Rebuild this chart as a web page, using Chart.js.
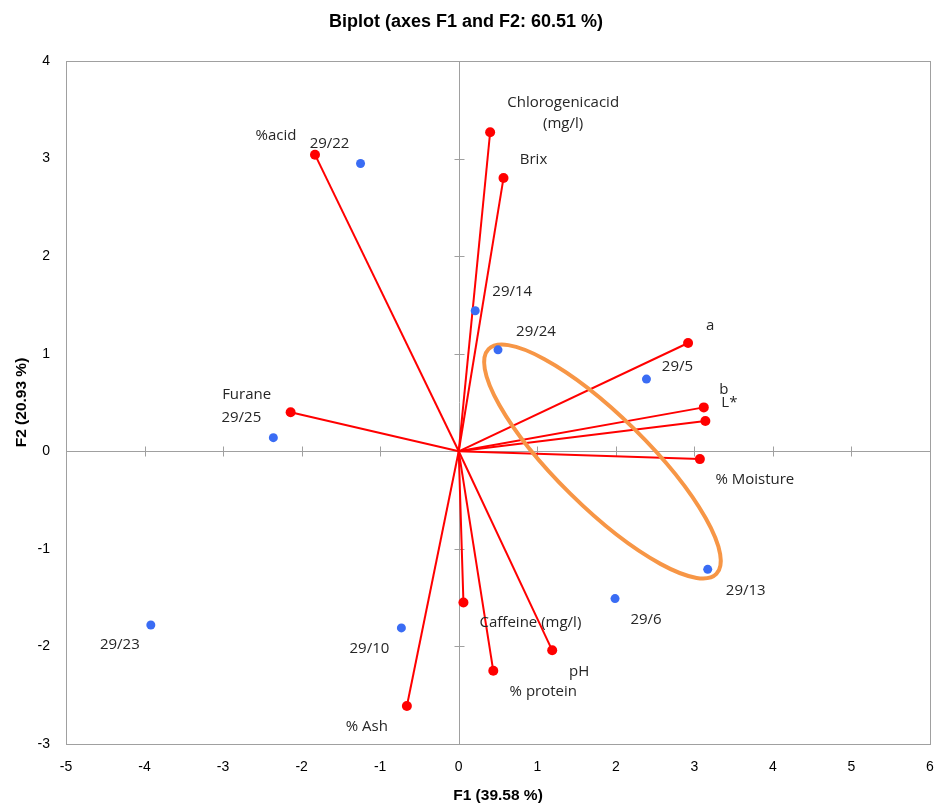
<!DOCTYPE html>
<html>
<head>
<meta charset="utf-8">
<script src="https://cdn.jsdelivr.net/npm/chart.js@4/dist/chart.umd.min.js"></script>
<style>
  html, body { margin: 0; padding: 0; background: #ffffff; }
  #wrap { width: 935px; height: 804px; position: relative; }
</style>
</head>
<body>
<div id="wrap"><canvas id="c" width="935" height="804"></canvas></div>
<script>
// ---- Data ----
const chartTitle = 'Biplot (axes F1 and F2: 60.51 %)';
const xAxisTitle = 'F1 (39.58 %)';
const yAxisTitle = 'F2 (20.93 %)';
const xTickValues = [-5, -4, -3, -2, -1, 0, 1, 2, 3, 4, 5, 6];
const yTickValues = [-3, -2, -1, 0, 1, 2, 3, 4];

// Variables (red vectors)
const varNames = ['%acid', ['Chlorogenicacid', '(mg/l)'], 'Brix', 'a', 'b', 'L*', '% Moisture', 'Furane', 'Caffeine (mg/l)', 'pH', '% protein', '% Ash'];
const varF1 = [-1.83, 0.40, 0.57, 2.92, 3.12, 3.14, 3.07, -2.14, 0.06, 1.19, 0.44, -0.66];
const varF2 = [3.04, 3.27, 2.80, 1.11, 0.45, 0.31, -0.08, 0.40, -1.55, -2.04, -2.25, -2.61];

// Observations (blue points)
const obsNames = ['29/22', '29/14', '29/24', '29/5', '29/25', '29/13', '29/6', '29/10', '29/23'];
const obsF1 = [-1.25, 0.21, 0.50, 2.39, -2.36, 3.17, 1.99, -0.73, -3.92];
const obsF2 = [2.95, 1.44, 1.04, 0.74, 0.14, -1.21, -1.51, -1.81, -1.78];

// ---- Label placement (pixel offsets from each marker) ----
const varLabelDX = [-39, 73, 30, 22, 20, 24, 55, -44, 67, 27, 50, -40];
const varLabelDY = [-19, -29, -18, -17, -18, -18, 21, -18, 20, 21, 21, 21];
const obsLabelDX = [-31, 37, 38, 31, -32, 38, 31, -32, -31];
const obsLabelDY = [-20, -19, -18, -12, -20, 21, 21, 21, 20];

const RED = '#ff0000';
const BLUE = '#3a6cf4';
const ORANGE = '#f79646';
const GRAY = '#a0a0a0';
const TEXT = '#262626';
const NARROW = "'Liberation Sans Narrow', 'Arial Narrow', 'Liberation Sans', sans-serif";
const LABEL_FONT = "15px 'Open Sans', 'Noto Sans', sans-serif";

const datasets = [];
varF1.forEach((fx, i) => {
  datasets.push({
    type: 'scatter',
    label: Array.isArray(varNames[i]) ? varNames[i].join(' ') : varNames[i],
    data: [{ x: 0, y: 0 }, { x: fx, y: varF2[i] }],
    showLine: true,
    borderColor: RED,
    backgroundColor: RED,
    borderWidth: 2,
    pointRadius: [0, 5],
    pointHoverRadius: [0, 5],
    pointBorderWidth: 0,
    order: 2
  });
});
const OBS_INDEX = datasets.length;
datasets.push({
  type: 'scatter',
  label: 'Observations',
  data: obsF1.map((fx, i) => ({ x: fx, y: obsF2[i] })),
  backgroundColor: BLUE,
  borderColor: BLUE,
  pointRadius: 4.5,
  pointBorderWidth: 0,
  order: 1
});

const frameAndAxes = {
  id: 'frameAndAxes',
  beforeDatasetsDraw(chart) {
    const { ctx, chartArea: a, scales: { x, y } } = chart;
    ctx.save();
    ctx.strokeStyle = GRAY;
    ctx.lineWidth = 1;
    ctx.strokeRect(Math.round(a.left) + 0.5, Math.round(a.top) + 0.5, Math.round(a.right - a.left), Math.round(a.bottom - a.top));
    const x0 = Math.round(x.getPixelForValue(0)) + 0.5;
    const y0 = Math.round(y.getPixelForValue(0)) + 0.5;
    ctx.beginPath();
    ctx.moveTo(a.left, y0); ctx.lineTo(a.right, y0);
    ctx.moveTo(x0, a.top); ctx.lineTo(x0, a.bottom);
    xTickValues.forEach(v => {
      const px = Math.round(x.getPixelForValue(v)) + 0.5;
      ctx.moveTo(px, y0 - 5); ctx.lineTo(px, y0 + 5);
    });
    yTickValues.forEach(v => {
      const py = Math.round(y.getPixelForValue(v)) + 0.5;
      ctx.moveTo(x0 - 5, py); ctx.lineTo(x0 + 5, py);
    });
    ctx.stroke();
    ctx.restore();
  }
};

// highlight ellipse: drawn above the red vectors but below the blue sample points
const groupEllipse = {
  id: 'groupEllipse',
  beforeDatasetDraw(chart, args) {
    if (args.index !== OBS_INDEX) return;
    const { ctx, scales: { x, y } } = chart;
    ctx.save();
    ctx.strokeStyle = ORANGE;
    ctx.lineWidth = 4;
    ctx.beginPath();
    ctx.ellipse(x.getPixelForValue(1.83), y.getPixelForValue(-0.105), 160, 45.5, 44.6 * Math.PI / 180, 0, Math.PI * 2);
    ctx.stroke();
    ctx.restore();
  }
};

const pointLabels = {
  id: 'pointLabels',
  afterDatasetsDraw(chart) {
    const { ctx, scales: { x, y } } = chart;
    ctx.save();
    ctx.fillStyle = TEXT;
    ctx.font = LABEL_FONT;
    ctx.textAlign = 'center';
    ctx.textBaseline = 'middle';
    varNames.forEach((name, i) => {
      const px = x.getPixelForValue(varF1[i]) + varLabelDX[i];
      const py = y.getPixelForValue(varF2[i]) + varLabelDY[i];
      if (Array.isArray(name)) {
        name.forEach((line, k) => ctx.fillText(line, px, py + k * 21));
      } else {
        ctx.fillText(name, px, py);
      }
    });
    obsNames.forEach((name, i) => {
      const px = x.getPixelForValue(obsF1[i]) + obsLabelDX[i];
      const py = y.getPixelForValue(obsF2[i]) + obsLabelDY[i];
      ctx.fillText(name, px, py);
    });
    ctx.restore();
  }
};

new Chart(document.getElementById('c'), {
  data: { datasets },
  options: {
    responsive: false,
    animation: false,
    events: [],
    layout: { padding: { top: 0, right: 3, bottom: 0, left: 0 } },
    plugins: {
      legend: { display: false },
      tooltip: { enabled: false },
      title: {
        display: true,
        text: chartTitle,
        color: '#000000',
        font: { family: NARROW, size: 18, weight: 'bold' },
        padding: { top: 11, bottom: 28.4 }
      }
    },
    scales: {
      x: {
        type: 'linear',
        min: -5, max: 6,
        afterBuildTicks(scale) { scale.ticks = xTickValues.map(v => ({ value: v })); },
        afterFit(scale) { scale.height = 60; scale.paddingRight = 3; },
        grid: { display: false, drawTicks: false },
        border: { display: false },
        ticks: { color: '#000000', font: { family: NARROW, size: 14 }, padding: 15, maxRotation: 0 },
        title: { display: true, text: xAxisTitle, color: '#000000', font: { family: NARROW, size: 15.5, weight: 'bold' }, padding: { top: 0, bottom: -1 } }
      },
      y: {
        type: 'linear',
        min: -3, max: 4,
        afterBuildTicks(scale) { scale.ticks = yTickValues.map(v => ({ value: v })); },
        afterFit(scale) { scale.width = 66; },
        grid: { display: false, drawTicks: false },
        border: { display: false },
        ticks: { color: '#000000', font: { family: NARROW, size: 14 }, padding: 16 },
        title: { display: true, text: yAxisTitle, color: '#000000', font: { family: NARROW, size: 15.5, weight: 'bold' }, padding: { top: 12, bottom: 0 } }
      }
    }
  },
  plugins: [frameAndAxes, groupEllipse, pointLabels]
});
</script>
</body>
</html>
